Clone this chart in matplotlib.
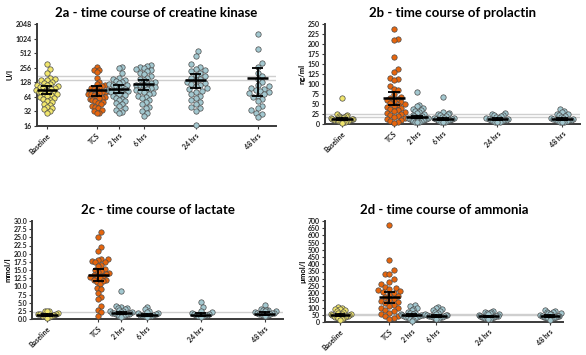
import numpy as np
import matplotlib
matplotlib.use("Agg")
import matplotlib.pyplot as plt
from matplotlib.ticker import FixedLocator, FixedFormatter, FormatStrFormatter

# ---------------- data ----------------
groups = ["Baseline", "TCS", "2 hrs", "6 hrs", "24 hrs", "48 hrs"]

ck_baseline = [300, 240, 200, 160, 150, 145, 140, 130, 125, 120, 115, 112, 108, 104, 100, 97, 94, 90, 88, 85,
               82, 80, 78, 75, 72, 70, 67, 64, 61, 58, 55, 52, 49, 46, 43, 40, 38, 36, 33, 30]
ck_tcs = [270, 235, 225, 205, 160, 130, 120, 112, 105, 100, 96, 92, 88, 85, 82, 80, 77, 74, 72, 70,
          67, 64, 62, 60, 57, 55, 52, 50, 48, 45, 42, 40, 37, 35, 32, 30, 30]
ck_2h = [260, 250, 195, 160, 150, 145, 138, 130, 125, 120, 115, 110, 105, 100, 96, 92, 88, 85, 82, 80,
         77, 74, 70, 66, 62, 58, 55, 52, 48, 45, 42, 38, 35, 31, 30]
ck_6h = [295, 280, 270, 255, 240, 230, 215, 200, 190, 175, 160, 150, 140, 130, 125, 120, 115, 110, 105, 100,
         96, 92, 88, 84, 80, 76, 72, 68, 64, 60, 55, 50, 45, 40, 37, 33, 30, 26]
ck_24h = [560, 440, 300, 260, 245, 235, 220, 200, 185, 170, 160, 150, 140, 130, 125, 120, 112, 105, 98, 92,
          86, 80, 74, 68, 62, 55, 50, 45, 40, 37, 33, 17]
ck_48h = [1300, 620, 320, 270, 200, 170, 150, 130, 115, 105, 98, 92, 88, 84, 80, 76, 72, 68, 64, 58,
          52, 42, 38, 34, 30, 28, 24]
ck_mean = [89, 87, 94, 116, 140, 159]
ck_lo = [72, 68, 76, 89, 96, 66]
ck_hi = [108, 105, 112, 142, 189, 250]
ck_ref = [145, 171]

prl_baseline = [65, 25, 22, 20, 19, 18, 17, 16, 15, 14, 13, 12, 12, 11, 10, 10, 9, 9, 8, 8, 7, 7, 6, 5, 4, 3]
prl_tcs = [238, 212, 210, 168, 138, 130, 115, 112, 110, 95, 88, 85, 75, 68, 65, 62, 60, 58, 55, 52,
           50, 48, 45, 42, 40, 38, 35, 32, 30, 28, 25, 22, 20, 18, 15, 12, 10, 8, 5, 3]
prl_2h = [80, 48, 45, 40, 38, 35, 32, 30, 28, 25, 22, 20, 19, 18, 17, 16, 15, 14, 13, 12, 11, 10, 9, 8, 7, 6, 5, 4]
prl_6h = [67, 30, 28, 26, 24, 22, 20, 18, 16, 15, 14, 13, 12, 11, 10, 9, 8, 7, 6, 5, 4]
prl_24h = [27, 25, 23, 22, 20, 18, 16, 14, 13, 12, 11, 10, 9, 8, 7, 6, 5, 4]
prl_48h = [38, 33, 29, 26, 24, 22, 20, 18, 16, 14, 13, 12, 11, 10, 9, 8, 7, 6, 5, 4]
prl_mean = [12, 64, 18, 13, 12, 13]
prl_lo = [10, 48, 15, 11, 10, 11]
prl_hi = [14, 81, 21, 15, 14, 15]
prl_ref = [17, 25]

lac_baseline = [2.6, 2.5, 2.3, 1.8, 1.6, 1.5, 1.4, 1.3, 1.2, 1.1, 1.0, 0.9, 0.8, 0.6, 0.4]
lac_tcs = [26.5, 25.2, 22.0, 20.8, 18.5, 18.3, 18.0, 17.8, 17.5, 17.4, 16.5, 16.3, 15.2, 15.0, 14.8, 14.5,
           14.0, 13.8, 13.5, 13.2, 13.0, 12.8, 12.5, 12.0, 11.8, 11.5, 11.3, 10.8, 9.5, 9.3, 8.0, 6.8,
           6.0, 4.0, 2.8, 2.0, 1.0]
lac_2h = [8.5, 4.0, 3.8, 3.5, 3.3, 3.0, 2.7, 2.5, 2.3, 2.2, 2.0, 1.9, 1.8, 1.7, 1.6, 1.5, 1.4, 1.3, 1.2, 1.0, 0.8, 0.6]
lac_6h = [3.8, 3.0, 2.6, 2.2, 1.9, 1.7, 1.5, 1.3, 1.2, 1.1, 1.0, 0.9, 0.8, 0.6]
lac_24h = [5.2, 3.6, 2.5, 2.0, 1.8, 1.6, 1.4, 1.3, 1.2, 1.1, 1.0, 0.8, 0.6]
lac_48h = [4.2, 3.1, 2.9, 2.8, 2.7, 2.5, 2.3, 2.1, 1.9, 1.8, 1.7, 1.6, 1.5, 1.4, 1.3, 1.2, 1.0, 0.8]
lac_mean = [1.2, 13.5, 1.8, 1.2, 1.3, 1.6]
lac_lo = [0.9, 11.5, 1.5, 1.0, 1.0, 1.3]
lac_hi = [1.5, 15.4, 2.2, 1.5, 1.7, 2.0]
lac_ref = [2.2]

nh3_baseline = [102, 98, 92, 88, 82, 75, 68, 62, 58, 55, 52, 50, 48, 46, 44, 42, 40, 38, 36, 33, 30, 25, 20, 12]
nh3_tcs = [670, 430, 360, 335, 330, 300, 280, 260, 245, 235, 230, 220, 215, 205, 200, 190, 180, 170, 160, 150,
           145, 140, 130, 120, 110, 100, 95, 85, 75, 65, 55, 45, 40, 30, 20]
nh3_2h = [115, 108, 95, 88, 80, 72, 65, 60, 56, 52, 50, 48, 46, 44, 42, 40, 38, 35, 32, 28, 22, 15, 8]
nh3_6h = [102, 95, 88, 82, 78, 70, 62, 58, 54, 50, 48, 46, 44, 42, 40, 38, 35, 32, 28, 24, 18]
nh3_24h = [78, 72, 68, 64, 60, 56, 52, 48, 45, 42, 40, 38, 36, 34, 32, 30, 28, 25, 22, 18]
nh3_48h = [80, 76, 72, 68, 64, 60, 56, 52, 48, 45, 42, 40, 38, 36, 34, 32, 30, 28, 25, 20, 15]
nh3_mean = [47, 172, 47, 44, 39, 41]
nh3_lo = [40, 130, 40, 38, 34, 35]
nh3_hi = [54, 210, 55, 51, 45, 47]
nh3_ref = [50, 55]

# ---------------- style ----------------
plt.rcParams['font.family'] = ['Lato', 'DejaVu Sans']
YELLOW = "#F1E66C"
ORANGE = "#E7650C"
BLUE = "#A3C8D0"
EDGE = "#4a4a4a"
colors = [YELLOW, ORANGE, BLUE, BLUE, BLUE, BLUE]
xpos = [0, 2, 2.9, 3.9, 6.0, 8.5]

fig = plt.figure(figsize=(5.86, 3.55), dpi=100)


def beeswarm(ax, x0, vals, diam_px, max_half_px):
    """Return x positions (data units) for a simple beeswarm."""
    vals = np.asarray(vals, float)
    ypx = ax.transData.transform(np.column_stack([np.full(len(vals), x0), vals]))[:, 1]
    x0px = ax.transData.transform([[x0, 0]])[0, 0]
    order = np.argsort(ypx)
    placed = []
    offs = np.zeros(len(vals))
    step = diam_px * 0.5
    for i in order:
        k = 0
        while True:
            cands = [0.0] if k == 0 else [k * step, -k * step]
            ok = None
            for c in cands:
                if all((c - px) ** 2 + (ypx[i] - py) ** 2 >= (diam_px * 0.98) ** 2 for px, py in placed):
                    ok = c
                    break
            if ok is not None:
                offs[i] = ok
                placed.append((ok, ypx[i]))
                break
            k += 1
    m = np.abs(offs).max() if len(offs) else 0
    if m > max_half_px:
        offs = offs * max_half_px / m
    xs = ax.transData.inverted().transform(np.column_stack([x0px + offs, ypx]))[:, 0]
    return xs


def panel(rect, xlim, title, ylabel, data, mean, lo, hi, refs, ylim, yticks, fmt, log=False):
    ax = fig.add_axes(rect)
    if log:
        ax.set_yscale('log', base=2)
    ax.set_xlim(*xlim)
    ax.set_ylim(*ylim)
    for r in refs:
        ax.axhline(r, color="#cfcfcf", lw=1.0, zorder=1)
    ax.yaxis.set_major_locator(FixedLocator(yticks))
    if log:
        ax.yaxis.set_major_formatter(FixedFormatter([str(t) for t in yticks]))
        ax.yaxis.set_minor_locator(FixedLocator([]))
    else:
        ax.yaxis.set_major_formatter(FormatStrFormatter(fmt))
    fig.canvas.draw()
    for x0, vals, c in zip(xpos, data, colors):
        xs = beeswarm(ax, x0, vals, 5.2, 11)
        ax.scatter(xs, vals, s=15, c=c, edgecolors=EDGE, linewidths=0.5, zorder=3, clip_on=False)
    for x0, m, l, h in zip(xpos, mean, lo, hi):
        ax.plot([x0 - 0.42, x0 + 0.42], [m, m], color="black", lw=1.8, zorder=4, solid_capstyle='butt')
        ax.plot([x0, x0], [l, h], color="black", lw=1.3, zorder=4)
        for v in (l, h):
            ax.plot([x0 - 0.22, x0 + 0.22], [v, v], color="black", lw=1.3, zorder=4, solid_capstyle='butt')
    for s in ("top", "right"):
        ax.spines[s].set_visible(False)
    for s in ("left", "bottom"):
        ax.spines[s].set_color("#3a3a3a")
        ax.spines[s].set_linewidth(1.4)
    ax.set_xticks(xpos)
    ax.set_xticklabels(groups, rotation=45, ha="right", rotation_mode="anchor",
                       fontsize=5, fontweight="bold")
    ax.tick_params(axis='x', length=2.5, width=0.8, pad=2, colors="#3a3a3a", labelcolor="#222")
    ax.tick_params(axis='y', length=2.5, width=0.8, pad=1, labelsize=5, colors="#3a3a3a", labelcolor="#222")
    for t in ax.get_yticklabels():
        t.set_fontweight("bold")
    ax.set_ylabel(ylabel, fontsize=5.5, fontweight="bold", labelpad=1.5)
    ax.set_title(title, fontsize=9.5, fontweight="bold", pad=5)
    return ax


panel([37 / 586, 1 - 126 / 355, 239 / 586, 102 / 355], (-0.4, 9.23),
      "2a - time course of creatine kinase", "U/l",
      [ck_baseline, ck_tcs, ck_2h, ck_6h, ck_24h, ck_48h], ck_mean, ck_lo, ck_hi, ck_ref,
      (16, 2048), [16, 32, 64, 128, 256, 512, 1024, 2048], None, log=True)

panel([325 / 586, 1 - 124 / 355, 255 / 586, 100 / 355], (-0.66, 9.19),
      "2b - time course of prolactin", "ng/ml",
      [prl_baseline, prl_tcs, prl_2h, prl_6h, prl_24h, prl_48h], prl_mean, prl_lo, prl_hi, prl_ref,
      (0, 250), list(range(0, 251, 25)), "%d")

panel([32 / 586, 1 - 319 / 355, 251 / 586, 98 / 355], (-0.59, 9.22),
      "2c - time course of lactate", "mmol/l",
      [lac_baseline, lac_tcs, lac_2h, lac_6h, lac_24h, lac_48h], lac_mean, lac_lo, lac_hi, lac_ref,
      (0, 30), list(np.arange(0, 30.01, 2.5)), "%.1f")

panel([325 / 586, 1 - 322 / 355, 238 / 586, 101 / 355], (-0.61, 9.03),
      "2d - time course of ammonia", "µmol/l",
      [nh3_baseline, nh3_tcs, nh3_2h, nh3_6h, nh3_24h, nh3_48h], nh3_mean, nh3_lo, nh3_hi, nh3_ref,
      (0, 700), list(range(0, 701, 50)), "%d")

fig.savefig("out.png", dpi=100)
